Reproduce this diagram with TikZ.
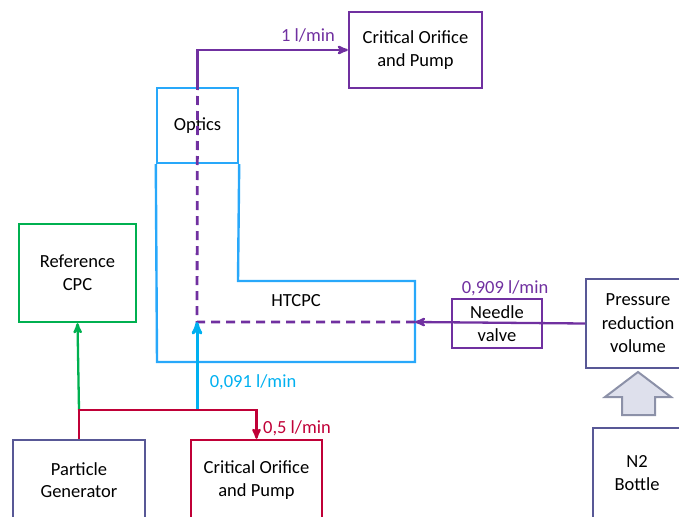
\documentclass[tikz,border=0pt]{standalone}
\usepackage{fontspec}
\setmainfont{Carlito}
\usetikzlibrary{arrows}

\definecolor{flowpurple}{RGB}{112,48,160}
\definecolor{cpcblue}{RGB}{0,176,240}
\definecolor{wallblue}{RGB}{40,168,250}
\definecolor{refgreen}{RGB}{0,176,80}
\definecolor{aerored}{RGB}{192,0,55}
\definecolor{slate}{RGB}{88,88,150}
\definecolor{hollowfill}{RGB}{222,224,236}
\definecolor{hollowline}{RGB}{140,145,168}

\begin{document}
\begin{tikzpicture}[x=1pt,y=-1pt,>=stealth',
  font=\fontsize{18.5}{22.7}\selectfont,
  box/.style={draw=#1,line width=2.4pt,align=center,inner sep=0pt},
  flow/.style={line width=2.3pt},
  rate/.style={font=\fontsize{18.5}{22}\selectfont}]

  \clip (0,0) rectangle (679,516);

  \node[box=flowpurple,minimum width=133pt,minimum height=76pt] (pump1) at (415.5,50) {Critical Orifice\\and Pump};
  \node[box=wallblue,minimum width=81pt,minimum height=75pt] (optics) at (197.5,125.5) {Optics};
  \node (htcpc) at (296,301) {HTCPC};
  \node[box=flowpurple,minimum width=90pt,minimum height=49pt] (needle) at (497,323.5) {Needle\\valve};
  \node[box=slate,minimum width=104pt,minimum height=89pt,font=\fontsize{18.5}{23.5}\selectfont] (pressure) at (638,323.5) {Pressure\\reduction\\volume};
  \node[box=refgreen,minimum width=117pt,minimum height=98pt] (refcpc) at (77.5,273) {Reference\\CPC};
  \node[box=slate,minimum width=132pt,minimum height=80pt] (gen) at (79,480) {Particle\\Generator};
  \node[box=aerored,minimum width=131pt,minimum height=80pt] (pump2) at (256.5,480) {Critical Orifice\\and Pump};
  \node[box=slate,minimum width=88pt,minimum height=90pt] (bottle) at (637,473) {N2\\Bottle};

  % HTCPC body below the optics
  \draw[wallblue,line width=2.4pt] (optics.south east) -- (238,281) -- (415,281) -- (415,362) -- (157,362) -- (optics.south west);

  \coordinate (inlet) at (197,322);
  \coordinate (outlet) at (415,322);
  \coordinate (split) at (197,410);
  \coordinate (tee) at (79,410);

  % flow rates
  \node[rate,flowpurple] (qtop) at (308,35) {1 l/min};
  \node[rate,flowpurple] (qvalve) at (505,288) {0,909 l/min};
  \node[rate,cpcblue] (qcpc) at (253,382) {0,091 l/min};
  \node[rate,aerored] (qpump) at (297,428) {0,5 l/min};

  % sheath air through the instrument
  \draw[flowpurple,line width=2.8pt,dash pattern=on 9pt off 6pt] (outlet) -- (inlet) -- (optics.north);
  \draw[flowpurple,flow,->] (optics.north) |- (pump1.west);
  \draw[flowpurple,flow,->] (pressure.west) -- (outlet);

  % aerosol lines
  \draw[cpcblue,line width=3pt,->] (split) -- (inlet);
  \draw[refgreen,flow,->] (tee) -- (refcpc.south);
  \draw[aerored,flow,->] (gen.north) -- (tee) -| (pump2.north);

  % nitrogen supply
  \draw[hollowline,fill=hollowfill,line width=2pt] (622,415) -- (622,397) -- (605,397) -- (638,372) -- (671,397) -- (655,397) -- (655,415) -- cycle;
\end{tikzpicture}
\end{document}
